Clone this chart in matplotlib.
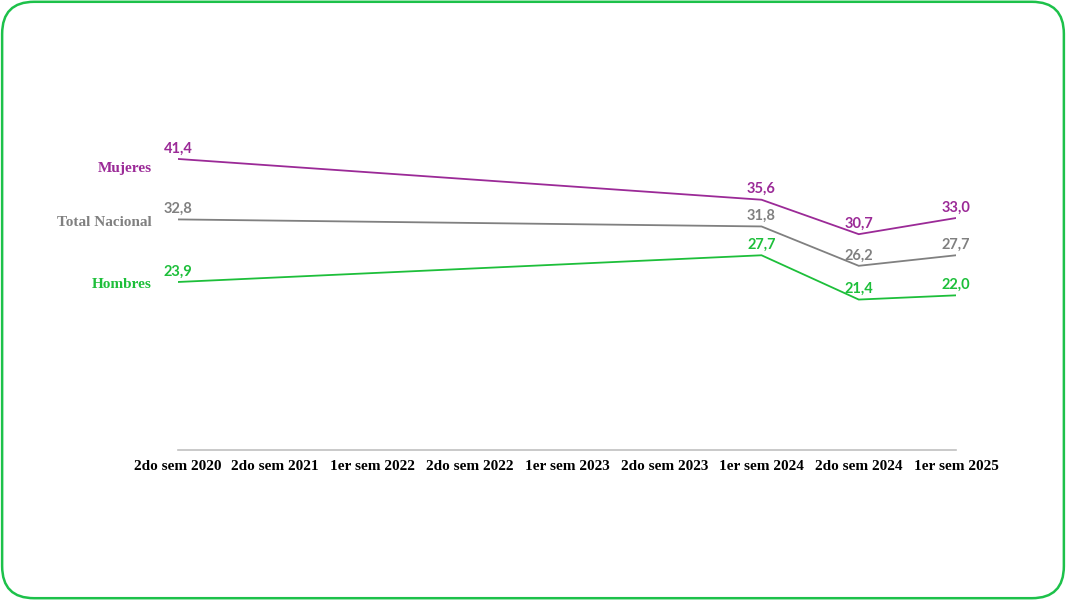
import numpy as np
import matplotlib.pyplot as plt
from matplotlib.patches import FancyBboxPatch

periodos = ["2do sem 2020", "2do sem 2021", "1er sem 2022", "2do sem 2022",
            "1er sem 2023", "2do sem 2023", "1er sem 2024", "2do sem 2024",
            "1er sem 2025"]
idx = [0, 6, 7, 8]  # periods with data
mujeres = [41.4, 35.6, 30.7, 33.0]
total = [32.8, 31.8, 26.2, 27.7]
hombres = [23.9, 27.7, 21.4, 22.0]

series = [
    ("Mujeres", mujeres, "#9b2a97"),
    ("Total Nacional", total, "#808080"),
    ("Hombres", hombres, "#1dbf3a"),
]

fig = plt.figure(figsize=(10.66, 6), dpi=100)
border = FancyBboxPatch((0.002, 0.003), 0.996, 0.994,
                        boxstyle="round,pad=0,rounding_size=0.03",
                        transform=fig.transFigure, fill=False,
                        ec="#1dc14a", lw=1.8, mutation_aspect=1.78)
fig.patches.append(border)

ax = fig.add_axes([178 / 1066, 0.25, (956 - 178) / 1066, 0.703])
for nombre, vals, col in series:
    ax.plot(idx, vals, color=col, lw=1.3, solid_joinstyle="miter")
    for x, v in zip(idx, vals):
        ax.annotate(f"{v:.1f}".replace(".", ","), (x, v), xytext=(0, 2.5),
                    textcoords="offset points", ha="center", va="bottom",
                    color=col, fontsize=10.5, fontweight="bold", family="Lato")
    dy = -7 if nombre == "Mujeres" else -2
    ax.annotate(nombre, (0, vals[0]), xytext=(-19, dy), textcoords="offset points",
                ha="right", va="center", color=col, fontsize=11,
                fontweight="bold", family="Liberation Serif")

ax.set_xlim(0, 8)
ax.set_ylim(0, 60)
ax.set_xticks(range(len(periodos)))
ax.set_xticklabels(periodos, fontsize=11, fontweight="bold", family="Liberation Serif")
ax.tick_params(axis="x", length=0, pad=7.5)
ax.set_yticks([])
for s in ["top", "right", "left"]:
    ax.spines[s].set_visible(False)
ax.spines["bottom"].set_color("#c0c0c0")
ax.spines["bottom"].set_linewidth(1.2)

fig.savefig("out.png", dpi=100)
